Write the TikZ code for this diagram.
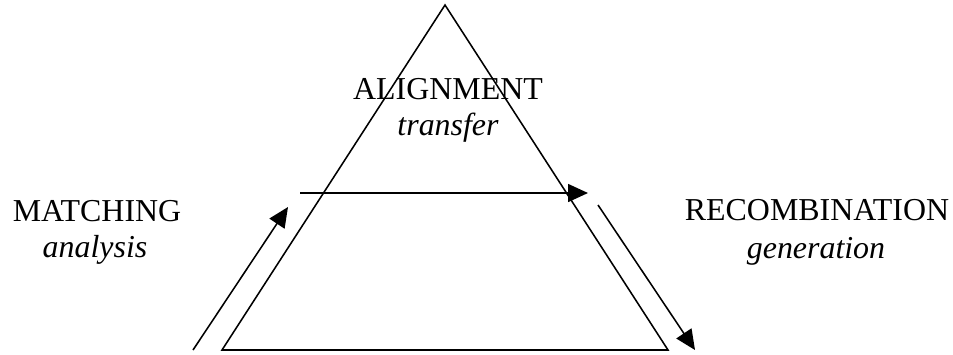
\documentclass[tikz,border=0pt]{standalone}
\usepackage{fontspec}
\setmainfont{Liberation Serif}
\usetikzlibrary{arrows.meta}
\tikzset{
  flow/.style={line width=1.1pt, -{Triangle[length=0.5cm, width=0.45cm]}},
  label/.style={anchor=base, inner sep=0pt, font=\fontsize{22.7}{27}\selectfont},
  sublabel/.style={label, font=\fontsize{22.7}{27}\selectfont\itshape}
}

\begin{document}
\begin{tikzpicture}
    \useasboundingbox (0,0) rectangle (23.825,-8.85);
    % Define points
    \coordinate (Top) at (11.125,-0.125);
    \coordinate (BL) at (5.55,-8.75);
    \coordinate (BR) at (16.7,-8.75);
    % Triangle
    \draw[line width=1.1pt, line join=miter] (Top) -- (BR) -- (BL) -- cycle;
    % Transfer arrow
    \coordinate (T0) at (7.5,-4.825);
    \coordinate (T1) at (14.7,-4.825);
    \draw[flow] (T0) -- (T1);
    % Analysis arrow
    \coordinate (A0) at (4.825,-8.75);
    \coordinate (A1) at (7.2,-5.175);
    \draw[flow] (A0) -- (A1);
    % Generation arrow
    \coordinate (G0) at (14.95,-5.125);
    \coordinate (G1) at (17.375,-8.75);
    \draw[flow] (G0) -- (G1);
    % Labels
    \node[label] (align) at (11.2,-2.475) {ALIGNMENT};
    \node[sublabel] (transfer) at (11.2,-3.375) {transfer};
    \node[label] (match) at (2.425,-5.525) {MATCHING};
    \node[sublabel] (analysis) at (2.375,-6.425) {analysis};
    \node[label] (recomb) at (20.425,-5.5) {RECOMBINATION};
    \node[sublabel] (generation) at (20.4,-6.45) {generation};
\end{tikzpicture}
\end{document}
